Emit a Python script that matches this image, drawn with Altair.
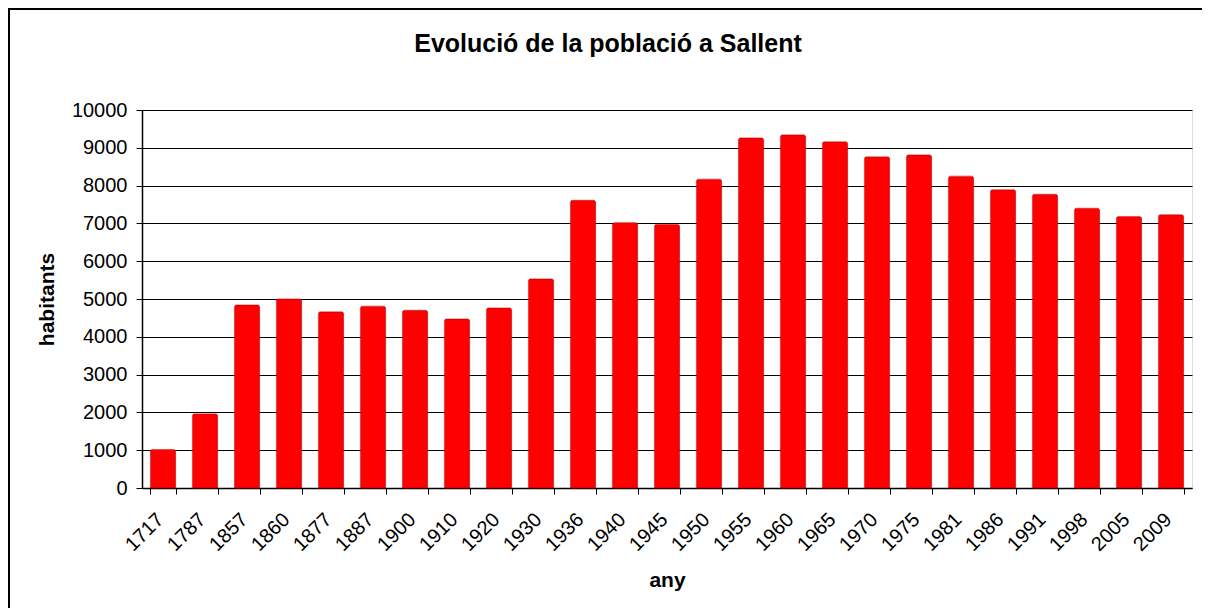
import altair as alt
import pandas as pd

years = ["1717", "1787", "1857", "1860", "1877", "1887", "1900", "1910", "1920",
         "1930", "1936", "1940", "1945", "1950", "1955", "1960", "1965", "1970",
         "1975", "1981", "1986", "1991", "1998", "2005", "2009"]
population = [1020, 1960, 4840, 5000, 4660, 4810, 4700, 4470, 4760,
              5530, 7610, 7020, 6970, 8170, 9260, 9340, 9160, 8760,
              8810, 8250, 7890, 7770, 7400, 7180, 7230]
y_ticks = [0, 1000, 2000, 3000, 4000, 5000, 6000, 7000, 8000, 9000, 10000]
title_text = ["Evolució de la població a Sallent"]

df = pd.DataFrame({"any": years, "habitants": population})

FONT = "Liberation Sans"
W, H = 1050, 378
PAD = {"left": 134, "top": 102, "right": 10, "bottom": 120}

bars = alt.Chart(df).mark_bar(
    color="#FF0000", stroke="#C00000", strokeWidth=0.6,
    cornerRadiusTopLeft=2, cornerRadiusTopRight=2,
).encode(
    x=alt.X("any:N", sort=None,
            scale=alt.Scale(paddingInner=0.4, paddingOuter=0.2),
            axis=alt.Axis(title="any", labelAngle=-45, labelAlign="right",
                          labelBaseline="top", labelFontSize=20, labelFont=FONT,
                          labelColor="black", labelPadding=15, labelOffset=-10,
                          tickBand="extent", tickSize=6, tickColor="black",
                          domainColor="black", domainWidth=1.5,
                          titleFont=FONT, titleFontSize=21, titleFontWeight="bold",
                          titleColor="black", titleX=W / 2, titleY=98,
                          titleBaseline="alphabetic", titleAlign="center")),
    y=alt.Y("habitants:Q",
            scale=alt.Scale(domain=[0, 10000], nice=False),
            axis=alt.Axis(title="habitants", values=y_ticks, format="d",
                          labelFontSize=20, labelFont=FONT, labelColor="black",
                          labelPadding=9, tickSize=6, tickColor="black",
                          domainColor="black", domainWidth=1.5,
                          grid=True, gridColor="black", gridWidth=1, gridOpacity=1,
                          titleFont=FONT, titleFontSize=21, titleFontWeight="bold",
                          titleColor="black", titleAngle=-90, titleX=-89,
                          titleY=H / 2, titleBaseline="alphabetic",
                          titleAlign="center")),
)

frame_df = pd.DataFrame({"f": [0]})
frame_left = alt.Chart(frame_df).mark_rule(color="black", strokeWidth=2).encode(
    x=alt.value(-PAD["left"] + 1),
    y=alt.value(-PAD["top"]), y2=alt.value(H + PAD["bottom"]),
)
frame_top = alt.Chart(frame_df).mark_rule(color="black", strokeWidth=2).encode(
    x=alt.value(-PAD["left"]), x2=alt.value(W + PAD["right"]),
    y=alt.value(-PAD["top"] + 1),
)

title = alt.Chart(pd.DataFrame({"t": title_text})).mark_text(
    font=FONT, fontSize=25, fontWeight="bold", color="black",
    align="center", baseline="alphabetic",
).encode(
    text="t:N", x=alt.value(466), y=alt.value(-58),
)

chart = alt.layer(frame_left, frame_top, bars, title).properties(
    width=W, height=H,
    autosize=alt.AutoSizeParams(type="none"),
    padding=PAD,
).configure_view(
    fill="#C0C0C0", stroke="#808080", strokeWidth=2
).configure(background="white")

chart.save("out.html", embed_options={"renderer": "svg", "actions": False})
